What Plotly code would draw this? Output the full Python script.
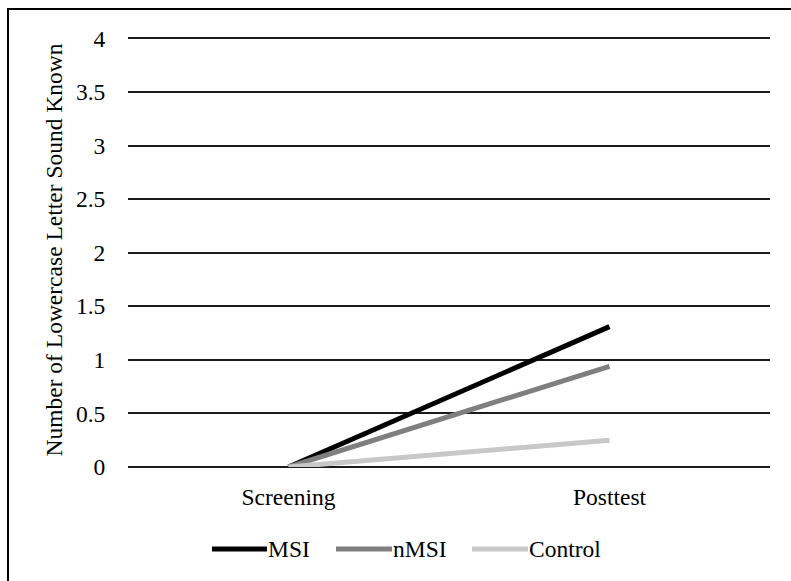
import plotly.graph_objects as go

# Assessment points and mean letter sounds known per group
phases = ["Screening", "Posttest"]
msi = [0.0, 1.31]
nmsi = [0.0, 0.94]
control = [0.0, 0.25]

group_names = ["MSI", "nMSI", "Control"]
group_values = [msi, nmsi, control]
group_colors = ["#000000", "#7f7f7f", "#c8c8c8"]

y_ticks = [0, 0.5, 1, 1.5, 2, 2.5, 3, 3.5, 4]
y_ticktext = ["0", "0.5", "1", "1.5", "2", "2.5", "3", "3.5", "4"]

W, H = 791, 581
L, R, T, B = 128, 21, 33, 114
pw, ph = W - L - R, H - T - B
FONT = "Times New Roman, Liberation Serif, serif"
FS = 23.5


def px_x(px):
    return (px - L) / pw


def px_y(py):
    return (H - B - py) / ph


fig = go.Figure()
for name, vals, col in zip(group_names, group_values, group_colors):
    fig.add_trace(go.Scatter(
        x=phases, y=vals, name=name, mode="lines",
        line=dict(color=col, width=5), showlegend=False,
    ))

# chart frame (top and left edges fall inside the page)
fig.add_shape(
    type="rect", xref="paper", yref="paper",
    x0=px_x(8), x1=px_x(820), y0=px_y(610), y1=px_y(9),
    line=dict(color="#000000", width=2), fillcolor="rgba(0,0,0,0)",
    layer="below",
)

# legend row drawn below the category labels
legend_y = 549
legend_items = [(212, 267), (336, 392), (472, 528)]
for name, col, (x0, x1) in zip(group_names, group_colors, legend_items):
    fig.add_shape(
        type="line", xref="paper", yref="paper",
        x0=px_x(x0), x1=px_x(x1), y0=px_y(legend_y), y1=px_y(legend_y),
        line=dict(color=col, width=5),
    )
    fig.add_annotation(
        xref="paper", yref="paper", x=px_x(x1), y=px_y(legend_y),
        text=name, showarrow=False, xanchor="left", yanchor="middle",
        xshift=-1, font=dict(family=FONT, size=FS, color="#000000"),
    )

fig.update_layout(
    width=W, height=H,
    margin=dict(l=L, r=R, t=T, b=B),
    paper_bgcolor="white", plot_bgcolor="white",
    font=dict(family=FONT, size=FS, color="#000000"),
    showlegend=False,
    xaxis=dict(
        showgrid=False, zeroline=False, showline=False,
        ticks="outside", ticklen=9, tickcolor="rgba(0,0,0,0)",
        range=[-0.5, 1.5], tickfont=dict(family=FONT, size=FS),
    ),
    yaxis=dict(
        range=[0, 4.05], tickvals=y_ticks, ticktext=y_ticktext,
        tickfont=dict(family=FONT, size=FS),
        showgrid=True, gridcolor="#1a1a1a", gridwidth=1.5,
        zeroline=True, zerolinecolor="#1a1a1a", zerolinewidth=1.5,
        showline=False,
        ticks="outside", ticklen=17, tickcolor="rgba(0,0,0,0)",
        title=dict(text="Number of Lowercase Letter Sound Known", standoff=6,
                   font=dict(family=FONT, size=FS)),
    ),
)

fig.write_html("out.html")
